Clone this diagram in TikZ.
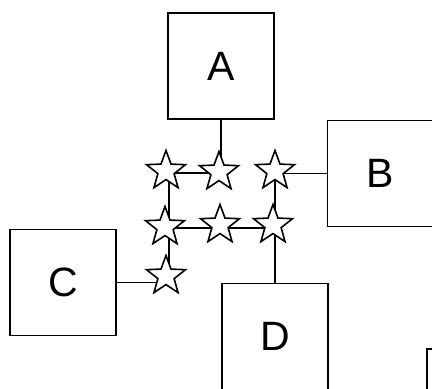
\documentclass[tikz,border=0pt]{standalone}
\usepackage{fontspec}
\setmainfont{Liberation Sans}
\usetikzlibrary{shapes.geometric}

\begin{document}
\begin{tikzpicture}[
    x=1pt, y=-1pt,
    box/.style={draw, line width=1.6pt, minimum size=106pt, inner sep=0pt, font=\fontsize{41}{48}\selectfont},
    starpt/.style={star, star points=5, star point ratio=2.4, draw, fill=white, line width=1.6pt, minimum size=41pt, inner sep=0pt},
    link/.style={line width=1.6pt}
  ]
    \clip (0,0) rectangle (432,389);

    \node[box] (A) at (221,66) {A};
    \node[box] (B) at (380.5,173.5) {B};
    \node[box] (C) at (63,282.5) {C};
    \node[box] (D) at (275,336.5) {D};
    \node[box] (E) at (480,402) {};

    % bend points
    \coordinate (bend) at (169,173);
    \coordinate (left) at (169,228);
    \coordinate (right) at (275,228);

    \draw[link] (A.south) |- (bend) |- (C.east);
    \draw[link] (B.west) -| (D.north);
    \draw[link] (left) -- (right);

    \node[starpt] (s1) at (166,171) {};
    \node[starpt] (s2) at (219,172) {};
    \node[starpt] (s3) at (275,171) {};
    \node[starpt] (s4) at (165,227) {};
    \node[starpt] (s5) at (220,225) {};
    \node[starpt] (s6) at (273,225) {};
    \node[starpt] (s7) at (166,276) {};
  \end{tikzpicture}
\end{document}
